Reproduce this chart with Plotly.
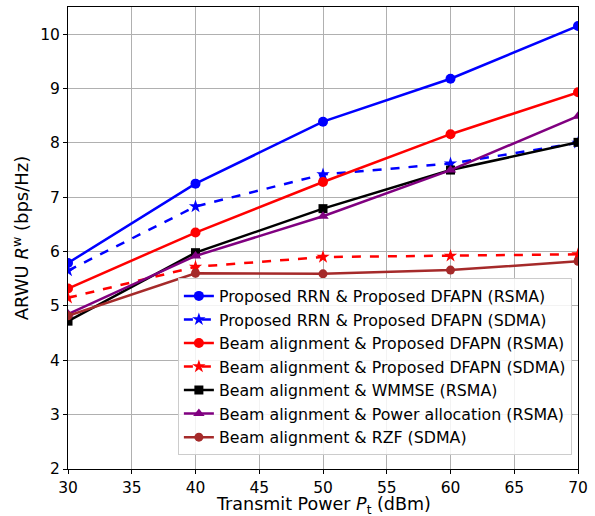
import plotly.graph_objects as go

power = [30, 40, 50, 60, 70]
rrn_dfapn_rsma = [5.79, 7.25, 8.39, 9.18, 10.15]
rrn_dfapn_sdma = [5.65, 6.83, 7.42, 7.62, 8.00]
ba_dfapn_rsma = [5.32, 6.35, 7.28, 8.16, 8.93]
ba_dfapn_sdma = [5.15, 5.72, 5.90, 5.92, 5.95]
ba_wmmse_rsma = [4.72, 5.98, 6.79, 7.50, 8.01]
ba_pa_rsma = [4.85, 5.92, 6.65, 7.50, 8.49]
ba_rzf_sdma = [4.82, 5.60, 5.59, 5.66, 5.82]

series = [
    ("Proposed RRN & Proposed DFAPN (RSMA)", rrn_dfapn_rsma, "blue", "solid", "circle", 10),
    ("Proposed RRN & Proposed DFAPN (SDMA)", rrn_dfapn_sdma, "blue", "dash", "star", 10),
    ("Beam alignment & Proposed DFAPN (RSMA)", ba_dfapn_rsma, "red", "solid", "circle", 10),
    ("Beam alignment & Proposed DFAPN (SDMA)", ba_dfapn_sdma, "red", "dash", "star", 10),
    ("Beam alignment & WMMSE (RSMA)", ba_wmmse_rsma, "black", "solid", "square", 9),
    ("Beam alignment & Power allocation (RSMA)", ba_pa_rsma, "purple", "solid", "triangle-up", 10),
    ("Beam alignment & RZF (SDMA)", ba_rzf_sdma, "brown", "solid", "circle", 9),
]

fig = go.Figure()
for name, ys, color, dash, sym, sz in series:
    fig.add_trace(go.Scatter(
        x=power, y=ys, name=name, mode="lines+markers",
        line=dict(color=color, width=2.5, dash=dash),
        marker=dict(symbol=sym, size=sz, color=color),
    ))

font = "DejaVu Sans"
fig.update_layout(
    width=595, height=516,
    margin=dict(l=68, r=17, t=7, b=47),
    paper_bgcolor="white", plot_bgcolor="white",
    font=dict(family=font, size=16, color="black"),
    showlegend=True,
    legend=dict(
        x=0.988, y=0.03, xanchor="right", yanchor="bottom",
        bgcolor="rgba(255,255,255,0.85)", bordercolor="#cccccc", borderwidth=1,
        font=dict(family=font, size=15.8), tracegroupgap=0, itemwidth=30,
    ),
    xaxis=dict(
        range=[30, 70], tickvals=list(range(30, 71, 5)), automargin=False,
        showgrid=True, gridcolor="#b0b0b0", gridwidth=1,
        showline=True, linecolor="black", linewidth=1, mirror=True,
        ticks="outside", ticklen=4, tickcolor="black",
        tickfont=dict(size=15.5),
        zeroline=False,
    ),
    yaxis=dict(
        range=[2, 10.5], tickvals=list(range(2, 11)), automargin=False,
        showgrid=True, gridcolor="#b0b0b0", gridwidth=1,
        showline=True, linecolor="black", linewidth=1, mirror=True,
        ticks="outside", ticklen=4, tickcolor="black",
        tickfont=dict(size=15.5),
        title=dict(text="ARWU <i>R</i><sup>w</sup> (bps/Hz)", font=dict(size=18), standoff=6),
        zeroline=False,
    ),
    annotations=[dict(
        text="Transmit Power <i>P</i><sub>t</sub> (dBm)",
        xref="paper", yref="paper", x=0.5, y=0, xanchor="center", yanchor="top",
        yshift=-23, showarrow=False, font=dict(family=font, size=17.5),
    )],
)
fig.write_html("out.html", config={"displayModeBar": False},
               post_script="document.body.style.margin='0';")
